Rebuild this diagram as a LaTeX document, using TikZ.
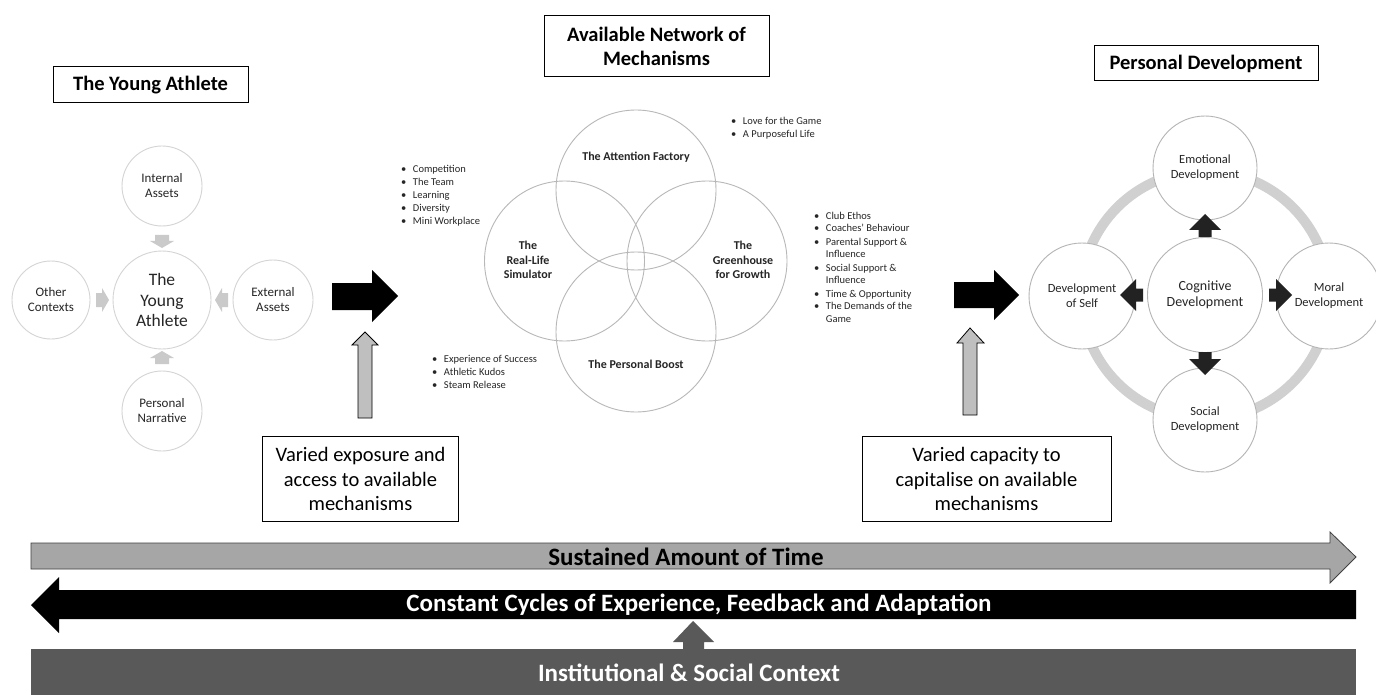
\documentclass[tikz,border=0pt]{standalone}
\usepackage{fontspec}
\setmainfont{Carlito}
\definecolor{lcirc}{HTML}{D4D4D4}
\definecolor{vcirc}{HTML}{B8B8B8}
\definecolor{rcirc}{HTML}{B4B4B4}
\definecolor{smallgray}{HTML}{CACACA}
\definecolor{ringgray}{HTML}{D0D0D0}
\definecolor{upgray}{HTML}{BFBFBF}
\definecolor{bargray}{HTML}{A6A6A6}
\definecolor{ctxgray}{HTML}{595959}
\definecolor{darkarr}{HTML}{222222}
\begin{document}
\begin{tikzpicture}[x=1pt,y=-1pt,
  titlebox/.style={draw=black, line width=1pt, align=center, inner sep=0pt,
    font=\fontsize{20.5}{24.5}\selectfont\bfseries},
  notebox/.style={draw=black, line width=0.8pt, align=center, inner sep=0pt,
    font=\fontsize{20.5}{24.5}\selectfont},
  lcircle/.style={circle, draw=lcirc, line width=0.9pt, fill=white, inner sep=0pt,
    align=center, font=\fontsize{13}{15}\selectfont, text=black!85},
  vcircle/.style={circle, draw=vcirc, line width=0.9pt, inner sep=0pt, minimum size=160pt},
  vlabel/.style={align=center, font=\fontsize{12}{14.5}\selectfont\bfseries, text=black!85},
  rcircle/.style={circle, draw=rcirc, line width=0.9pt, fill=white, inner sep=0pt,
    align=center, font=\fontsize{12.5}{15}\selectfont, text=black!85},
  bullets/.style={anchor=base west, inner sep=0pt, text=black!85,
    font=\fontsize{10.5}{13}\selectfont},
  bartext/.style={font=\fontsize{25}{29}\selectfont\bfseries},
  pics/smallarr/.style={code={
    \fill[smallgray] (-6,-7) -- (0,-7) -- (0,-12) -- (7,0) -- (0,12) -- (0,7) -- (-6,7) -- cycle;}},
  pics/darkarr/.style={code={
    \fill[darkarr] (-7,-6.5) -- (0,-6.5) -- (0,-16) -- (16,0) -- (0,16) -- (0,6.5) -- (-7,6.5) -- cycle;}},
]
\path[use as bounding box, fill=white] (0,0) rectangle (1376,695);

% ---------- titles ----------
\node[titlebox, minimum width=195pt, minimum height=36pt] (t1) at (150.5,85) {The Young Athlete};
\node[titlebox, minimum width=225pt, minimum height=61pt] (t2) at (656.5,46.5) {Available Network of\\Mechanisms};
\node[titlebox, minimum width=224pt, minimum height=35pt] (t3) at (1206,63.5) {Personal Development};

% ---------- left cluster ----------
\node[lcircle, minimum size=80pt] (int) at (162,186) {Internal\\Assets};
\node[lcircle, minimum size=98pt, font=\fontsize{17.5}{20.5}\selectfont] (ya) at (162,300) {The\\Young\\Athlete};
\node[lcircle, minimum size=78pt] (oth) at (51,300) {Other\\Contexts};
\node[lcircle, minimum size=80pt] (ext) at (273,300) {External\\Assets};
\node[lcircle, minimum size=80pt] (nar) at (162,411) {Personal\\Narrative};
\pic[rotate=-90] at (162,241) {smallarr};
\pic at (102,300) {smallarr};
\pic[rotate=180] at (222,300) {smallarr};
\pic[rotate=90] at (162,358) {smallarr};

% ---------- big black arrows ----------
\fill[black] (332,283) -- (372,283) -- (372,270) -- (398,296) -- (372,322) -- (372,310) -- (332,310) -- cycle;
\fill[black] (954,282) -- (994,282) -- (994,270) -- (1019,295) -- (994,320) -- (994,308) -- (954,308) -- cycle;

% ---------- gray up arrows ----------
\filldraw[fill=upgray, draw=black, line width=0.8pt] (358,418) -- (358,345) -- (352,345) -- (365,332) -- (378,345) -- (372,345) -- (372,418) -- cycle;
\filldraw[fill=upgray, draw=black, line width=0.8pt] (963,415) -- (963,343) -- (957,343) -- (970,328) -- (984,343) -- (977,343) -- (977,415) -- cycle;

% ---------- note boxes ----------
\node[notebox, minimum width=196pt, minimum height=85pt] (n1) at (360.5,479) {Varied exposure and\\access to available\\mechanisms};
\node[notebox, minimum width=249pt, minimum height=85pt] (n2) at (986.5,479) {Varied capacity to\\capitalise on available\\mechanisms};

% ---------- Venn ----------
\node[vcircle] (att) at (636,190) {};
\node[vcircle] (rls) at (564.5,261) {};
\node[vcircle] (grh) at (707,261) {};
\node[vcircle] (pb) at (636,332) {};
\node[vlabel] (attl) at (636,157) {The Attention Factory};
\node[vlabel] (rlsl) at (528,260) {The\\Real-Life\\Simulator};
\node[vlabel] (grhl) at (743,260) {The\\Greenhouse\\for Growth};
\node[vlabel] (pbl) at (636,364) {The Personal Boost};

% ---------- bullet lists ----------
\node[bullets] (l1) at (731,125) {\begin{tabular}[t]{@{}l@{\hspace{6.5pt}}l@{}}
\textbullet & Love for the Game\\ \textbullet & A Purposeful Life\end{tabular}};
\node[bullets] (l2) at (401,173) {\begin{tabular}[t]{@{}l@{\hspace{6.5pt}}l@{}}
\textbullet & Competition\\ \textbullet & The Team\\ \textbullet & Learning\\ \textbullet & Diversity\\ \textbullet & Mini Workplace\end{tabular}};
\node[bullets] (l3) at (432,362) {\begin{tabular}[t]{@{}l@{\hspace{6.5pt}}l@{}}
\textbullet & Experience of Success\\ \textbullet & Athletic Kudos\\ \textbullet & Steam Release\end{tabular}};
\node[bullets] (l4) at (814,219) {\begin{tabular}[t]{@{}l@{\hspace{6.5pt}}l@{}}
\textbullet & Club Ethos\\ \textbullet & Coaches’ Behaviour\\ \textbullet & Parental Support \&\\ & Influence\\ \textbullet & Social Support \&\\ & Influence\\ \textbullet & Time \& Opportunity\\ \textbullet & The Demands of the\\ & Game\end{tabular}};

% ---------- right cluster ----------
\draw[ringgray, line width=10pt] (1205,295) circle[radius=124];
\begin{scope}
\clip (0,0) rectangle (1376,695);
\node[rcircle, minimum size=104pt] (emo) at (1205,168) {Emotional\\Development};
\node[rcircle, minimum size=104pt] (soc) at (1205,420) {Social\\Development};
\node[rcircle, minimum size=106pt] (self) at (1082,296) {Development\\of Self};
\node[rcircle, minimum size=106pt] (mor) at (1329,296) {Moral\\Development};
\node[rcircle, minimum size=115pt, font=\fontsize{14}{16.5}\selectfont] (cog) at (1205,295) {Cognitive\\Development};
\end{scope}
\pic[rotate=90] at (1205,230) {darkarr};
\pic[rotate=-90] at (1205,359) {darkarr};
\pic[rotate=180] at (1136,295) {darkarr};
\pic at (1276,295) {darkarr};

% ---------- bottom bars ----------
\filldraw[fill=bargray, draw=black!75, line width=0.8pt]
  (31,543) -- (1330,543) -- (1330,532) -- (1356,557) -- (1330,583) -- (1330,569) -- (31,569) -- cycle;
\node[bartext] (sus) at (686,557) {Sustained Amount of Time};
\fill[black] (1356,590) -- (59,590) -- (59,577) -- (31,605) -- (59,633) -- (59,619) -- (1356,619) -- cycle;
\node[bartext, text=white] (cyc) at (699,605) {Constant Cycles of Experience, Feedback and Adaptation};
\fill[ctxgray] (31,649) rectangle (1356,700);
\fill[ctxgray] (683,650) -- (683,642) -- (673,642) -- (693,621) -- (714,642) -- (704,642) -- (704,650) -- cycle;
\node[bartext, text=white] (ctx) at (689,673) {Institutional \& Social Context};
\end{tikzpicture}
\end{document}
